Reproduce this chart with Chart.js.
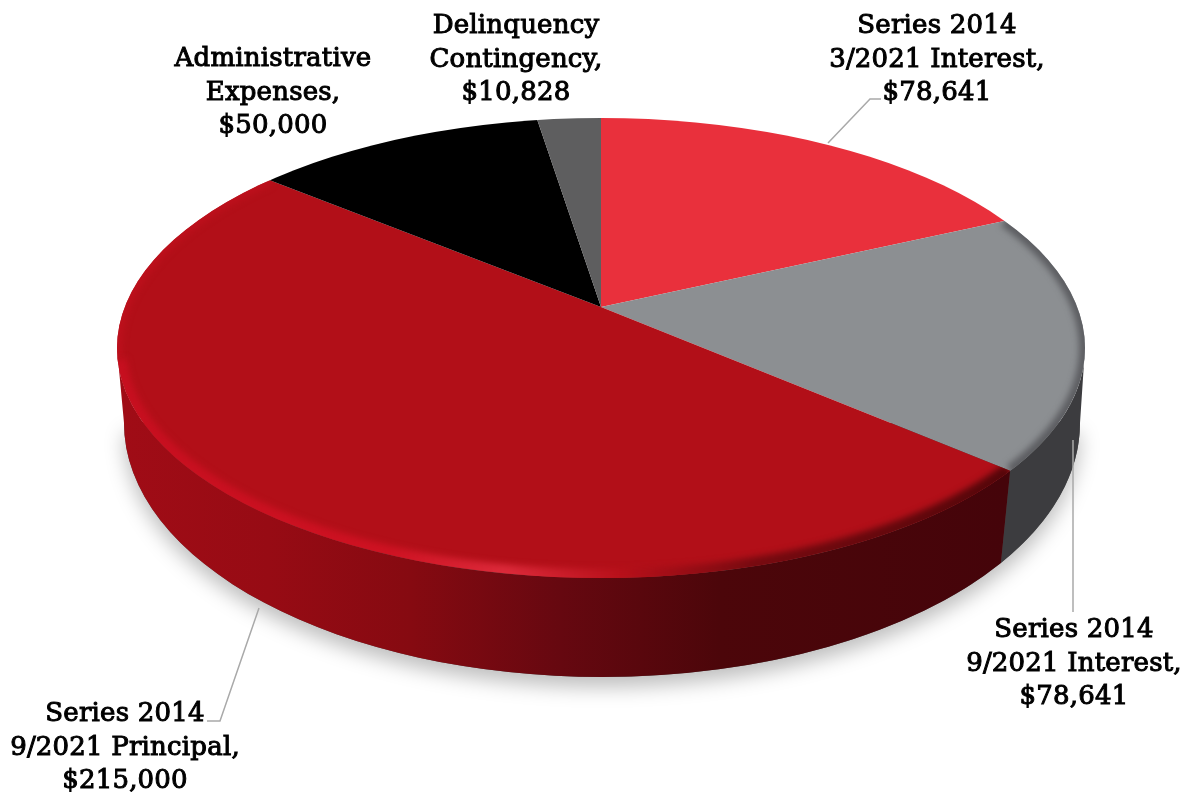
<!DOCTYPE html>
<html>
<head>
<meta charset="utf-8">
<title>Debt service pie</title>
<script src="https://cdn.jsdelivr.net/npm/chart.js@4"></script>
<style>
    html, body { margin: 0; padding: 0; background: #fff; }
    canvas { display: block; }
</style>
</head>
<body>
<canvas id="pieChart" width="1190" height="794"></canvas>
<script>
// Data
const categories = ["Series 2014 3/2021 Interest", "Series 2014 9/2021 Interest", "Series 2014 9/2021 Principal", "Administrative Expenses", "Delinquency Contingency"];
const amounts = [78641, 78641, 215000, 50000, 10828];
const labelLines = [
    ["Series 2014", "3/2021 Interest,", "$78,641"],
    ["Series 2014", "9/2021 Interest,", "$78,641"],
    ["Series 2014", "9/2021 Principal,", "$215,000"],
    ["Administrative", "Expenses,", "$50,000"],
    ["Delinquency", "Contingency,", "$10,828"]
];

// Look of the slices
const faceColors = ["#e9303c", "#8c8f92", "#b20f18", "#000000", "#5e5e5f"];
const labelSpots = [[937, 33], [1074, 637], [125, 721], [273, 66], [516, 33]];
const leaderLines = [
    [[828, 143], [870, 99], [881, 99]],
    [[1073, 440], [1073, 612]],
    [[259, 608], [220, 721], [207, 721]]
];

// Tilted disc: pie centre, squash factor, top rim and bottom rim
const apex = { x: 601, y: 307 };
const squash = 0.465;
const rim = { x: 601, y: 348, rx: 484, ry: 230 };
const foot = { x: 602, y: 423, rx: 478, ry: 254 };

function rimParam(angle) {
    // where a slice edge (pie angle) meets the top rim ellipse
    const dx = Math.cos(angle) / rim.rx;
    const dy = squash * Math.sin(angle) / rim.ry;
    const ox = (apex.x - rim.x) / rim.rx;
    const oy = (apex.y - rim.y) / rim.ry;
    const a = dx * dx + dy * dy;
    const b = 2 * (ox * dx + oy * dy);
    const c = ox * ox + oy * oy - 1;
    const s = (-b + Math.sqrt(b * b - 4 * a * c)) / (2 * a);
    let t = Math.atan2(oy + s * dy, ox + s * dx);
    if (t < -Math.PI / 2 - 1e-6) t += Math.PI * 2;
    return t;
}

function sideGradient(ctx, index) {
    const g = ctx.createLinearGradient(118, 0, 1003, 0);
    if (index === 1) {
        g.addColorStop(0, "#3c3c3f");
        g.addColorStop(1, "#3c3c3f");
    } else {
        g.addColorStop(0, "#a00c16");
        g.addColorStop(0.17, "#970b14");
        g.addColorStop(0.33, "#860a11");
        g.addColorStop(0.5, "#660810");
        g.addColorStop(0.68, "#4c060a");
        g.addColorStop(1, "#45040a");
    }
    return g;
}

function bevelGradient(ctx, index) {
    const g = ctx.createLinearGradient(118, 0, 1085, 0);
    if (index === 1) {
        g.addColorStop(0, "#5c5d61");
        g.addColorStop(1, "#5c5d61");
    } else {
        g.addColorStop(0, "#c60f1f");
        g.addColorStop(0.28, "#ce1222");
        g.addColorStop(0.4, "#dc2a3a");
        g.addColorStop(0.52, "#b8101a");
        g.addColorStop(0.66, "#760a10");
        g.addColorStop(1, "#4a0508");
    }
    return g;
}

const discPlugin = {
    id: "disc",
    beforeDatasetsDraw(chart) {
        const ctx = chart.ctx;
        const arcs = chart.getDatasetMeta(0).data;

        // soft shadow on the floor
        ctx.save();
        ctx.shadowColor = "rgba(0,0,0,0.26)";
        ctx.shadowBlur = 20;
        ctx.shadowOffsetY = 10;
        ctx.fillStyle = "#555";
        ctx.beginPath();
        ctx.ellipse(foot.x, foot.y, foot.rx, foot.ry, 0, 0, Math.PI);
        ctx.closePath();
        ctx.fill();
        ctx.restore();

        // outer wall of the slices that face us
        arcs.forEach((arc, i) => {
            const t1 = Math.max(rimParam(arc.startAngle), 0);
            const t2 = Math.min(rimParam(arc.endAngle), Math.PI);
            if (t2 <= t1) return;
            // the seam between two walls leans in slightly towards the foot
            const f1 = t1 > 0 ? t1 + 0.02 : 0;
            const f2 = t2 < Math.PI ? t2 + 0.02 : Math.PI;
            ctx.fillStyle = sideGradient(ctx, i);
            ctx.beginPath();
            ctx.ellipse(rim.x, rim.y, rim.rx, rim.ry, 0, t1, t2);
            ctx.ellipse(foot.x, foot.y, foot.rx, foot.ry, 0, f2, f1, true);
            ctx.closePath();
            ctx.fill();
        });

        // the face: slices drawn by Chart.js, squashed and cut by the rim
        ctx.save();
        ctx.beginPath();
        ctx.ellipse(rim.x, rim.y, rim.rx, rim.ry, 0, 0, Math.PI * 2);
        ctx.clip();
        ctx.translate(apex.x, apex.y);
        ctx.scale(1, squash);
        ctx.translate(-apex.x, -apex.y);
    },
    afterDatasetsDraw(chart) {
        const ctx = chart.ctx;
        ctx.restore();

        // rounded edge of the red and grey slices
        chart.getDatasetMeta(0).data.forEach((arc, i) => {
            if (i !== 1 && i !== 2) return;
            const t1 = rimParam(arc.startAngle);
            const t2 = rimParam(arc.endAngle);
            ctx.save();
            ctx.beginPath();
            ctx.ellipse(rim.x, rim.y, rim.rx, rim.ry, 0, 0, Math.PI * 2);
            ctx.clip();
            ctx.translate(apex.x, apex.y);
            ctx.scale(1, squash);
            ctx.beginPath();
            ctx.moveTo(0, 0);
            ctx.arc(0, 0, arc.outerRadius, arc.startAngle, arc.endAngle);
            ctx.closePath();
            ctx.setTransform(1, 0, 0, 1, 0, 0);
            ctx.clip();
            ctx.filter = "blur(3px)";
            if (t2 > Math.PI) {
                // back part of the rim barely shows
                ctx.strokeStyle = "#bd101c";
                ctx.lineWidth = 10;
                ctx.beginPath();
                ctx.ellipse(rim.x, rim.y, rim.rx, rim.ry, 0, Math.PI - 0.05, t2);
                ctx.stroke();
            }
            ctx.strokeStyle = bevelGradient(ctx, i);
            ctx.lineWidth = i === 2 ? 18 : 12;
            ctx.beginPath();
            ctx.ellipse(rim.x, rim.y, rim.rx, rim.ry, 0, t1, Math.min(t2, Math.PI - 0.05));
            ctx.stroke();
            ctx.restore();
        });
    },
    afterDraw(chart) {
        const ctx = chart.ctx;

        // leader lines
        ctx.save();
        ctx.strokeStyle = "#a9a9a9";
        ctx.lineWidth = 1.5;
        leaderLines.forEach(line => {
            ctx.beginPath();
            line.forEach((p, i) => i ? ctx.lineTo(p[0], p[1]) : ctx.moveTo(p[0], p[1]));
            ctx.stroke();
        });

        // slice labels, the stroke thickens the letters a little
        ctx.fillStyle = "#000";
        ctx.strokeStyle = "#000";
        ctx.lineWidth = 1;
        ctx.font = "26px 'DejaVu Serif'";
        ctx.letterSpacing = "0.2px";
        ctx.textAlign = "center";
        ctx.textBaseline = "alphabetic";
        labelLines.forEach((lines, i) => {
            lines.forEach((text, n) => {
                const y = labelSpots[i][1] + n * 33.5;
                ctx.fillText(text, labelSpots[i][0], y);
                ctx.strokeText(text, labelSpots[i][0], y);
            });
        });
        ctx.restore();
    }
};

const pieChart = new Chart(document.getElementById("pieChart").getContext("2d"), {
    type: "pie",
    data: {
        labels: categories,
        datasets: [{
            data: amounts,
            backgroundColor: faceColors,
            borderWidth: 0,
            clip: false
        }]
    },
    options: {
        responsive: false,
        animation: false,
        radius: 640,
        // puts the pie centre on the apex of the slices
        layout: { padding: { left: 12, bottom: 180 } },
        plugins: {
            legend: { display: false },
            tooltip: { enabled: false }
        }
    },
    plugins: [discPlugin]
});
</script>
</body>
</html>
